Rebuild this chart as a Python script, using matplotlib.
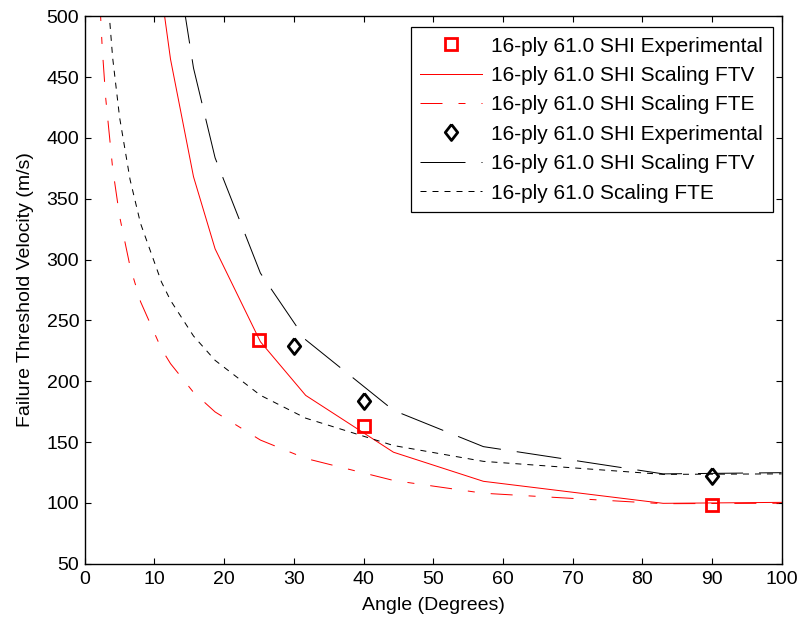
import matplotlib.pyplot as plt

plt.rcParams['font.family'] = ['Liberation Sans', 'DejaVu Sans']

# --- DATA ---
# measured failure threshold velocities
exp_red_angle = [25, 40, 90]
exp_red_vel = [234, 163, 98.5]
exp_blk_angle = [30, 40, 90]
exp_blk_vel = [229, 184, 122.5]

# scaling curves, FTV
ftv_angle = [8, 11, 12.3, 15.6, 18.7, 25.2, 31.7, 44.3, 57.2, 83, 100]
ftv_red = [711, 519, 464.7, 368.1, 308.8, 232.5, 188.4, 141.7, 117.8, 99.7, 100.5]
ftv_blk = [884, 644.6, 577.4, 457.4, 383.6, 288.9, 234.1, 176.1, 146.3, 123.9, 124.9]

# scaling curves, FTE
fte_angle = [1.5, 2, 2.5, 3, 4, 5, 6.5, 8, 11, 12.3, 15.6, 18.7, 25.2, 31.7,
             44.3, 57.2, 83, 100]
fte_red = [611.9, 529.9, 474.0, 432.7, 374.8, 335.3, 294.2, 265.4, 226.6, 214.5,
           190.9, 174.8, 151.7, 136.6, 118.5, 108.0, 99.4, 99.8]
fte_blk = [760.2, 658.4, 588.9, 537.7, 465.7, 416.6, 365.6, 329.7, 281.6, 266.5,
           237.2, 217.2, 188.5, 169.7, 147.2, 134.2, 123.5, 123.9]

labels = ['16-ply 61.0 SHI Experimental', '16-ply 61.0 SHI Scaling FTV',
          '16-ply 61.0 SHI Scaling FTE', '16-ply 61.0 SHI Experimental',
          '16-ply 61.0 SHI Scaling FTV', '16-ply 61.0 Scaling FTE']

# --- FIGURE ---
fig = plt.figure(figsize=(8, 6.23), dpi=100)
ax = fig.add_axes([0.106, 0.095, 0.871, 0.879])

lw = 0.72  # ~1 px, so dash lengths below are in pixels
diamond = [(0, 1), (0.78, 0), (0, -1), (-0.78, 0), (0, 1)]

ax.plot(exp_red_angle, exp_red_vel, ls='none', marker='s', ms=8, mew=2,
        mfc='none', mec='red', label=labels[0])
ax.plot(ftv_angle, ftv_red, color='red', lw=lw, label=labels[1])
ax.plot(fte_angle, fte_red, color='red', lw=lw, dashes=(22, 16, 7, 16),
        label=labels[2])
ax.plot(exp_blk_angle, exp_blk_vel, ls='none', marker=diamond, ms=11.5, mew=2,
        mfc='none', mec='black', label=labels[3])
ax.plot(ftv_angle, ftv_blk, color='black', lw=lw, dashes=(45, 16),
        label=labels[4])
ax.plot(fte_angle, fte_blk, color='black', lw=lw, dashes=(6, 6),
        label=labels[5])

ax.set_xlim(0, 100)
ax.set_ylim(50, 500)
ax.set_xticks(range(0, 101, 10))
ax.set_yticks(range(50, 501, 50))

ax.tick_params(direction='in', top=True, right=True, length=4, width=0.8,
               labelsize=14)
ax.tick_params(axis='x', pad=5)
ax.tick_params(axis='y', pad=4)
for s in ax.spines.values():
    s.set_linewidth(1.0)

ax.set_xlabel('Angle (Degrees)', fontsize=14, labelpad=7)
ax.set_ylabel('Failure Threshold Velocity (m/s)', fontsize=14, labelpad=9)

leg = ax.legend(loc='upper right', bbox_to_anchor=(0.987, 0.980),
                borderaxespad=0, fontsize=15, handlelength=3.0,
                handletextpad=0.43, labelspacing=0.5, borderpad=0.45,
                fancybox=False, framealpha=1, edgecolor='black', numpoints=1)
leg.get_frame().set_linewidth(0.9)

fig.savefig('out.png', dpi=100)
